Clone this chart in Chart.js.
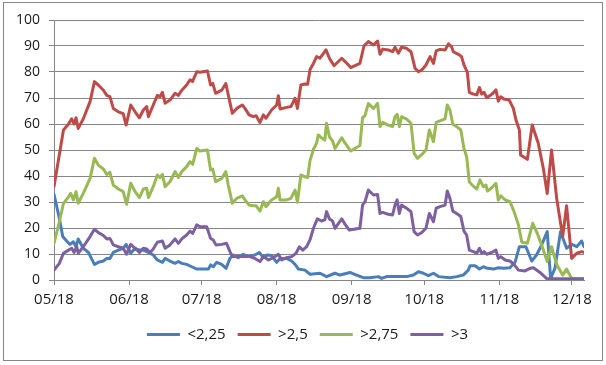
<!DOCTYPE html>
<html>
<head>
<meta charset="utf-8">
<script src="https://cdn.jsdelivr.net/npm/chart.js@4.4.1/dist/chart.umd.min.js"></script>
<style>
  html, body { margin: 0; padding: 0; background: #fff; }
  #frame { position: absolute; left: 3px; top: 2px; width: 600px; height: 359px; box-sizing: border-box; border: 1px solid #868686; }
  #chart { position: absolute; left: 0; top: 0; }
</style>
</head>
<body>
<div id="frame"></div>
<canvas id="chart" width="606" height="365"></canvas>
<script>
// x values are days since 1 May 2018
const monthDays = [0, 31, 61, 92, 123, 153, 184, 214];
const monthLabels = ['05/18', '06/18', '07/18', '08/18', '09/18', '10/18', '11/18', '12/18'];
const yTicks = [0, 10, 20, 30, 40, 50, 60, 70, 80, 90, 100];
const seriesNames = ['<2,25', '>2,5', '>2,75', '>3'];

const blueDays = [0, 2.2, 3.6, 5.2, 6.6, 8, 9.1, 10, 12.1, 14.2, 16.7, 18.3, 20.4, 21.8, 23.1, 24.5, 26.6, 28.6, 29.8, 31.7, 33.5, 35.3, 36.9, 39, 41, 42.7, 44.8, 45.9, 47.9, 50, 51.4, 52.8, 54.8, 56.9, 59, 61.7, 63.8, 64.7, 65.8, 67.2, 69.3, 71.1, 72.7, 74.1, 76.1, 78.2, 80.2, 83, 84.8, 86.5, 88.1, 89.9, 92, 93.4, 96.1, 98.2, 99.6, 101, 103.7, 105.8, 107.9, 109.9, 112.6, 116.1, 118.2, 122.3, 125, 127.8, 130.5, 134, 135.4, 137.4, 141.6, 145.7, 148.5, 150.6, 152.6, 154.7, 156.8, 158.9, 163.6, 166.4, 169.1, 171.2, 171.9, 174, 175.8, 177.4, 179.1, 181.6, 183.6, 185.7, 188.4, 190.5, 192.3, 195, 197.4, 199.4, 201.5, 203.8, 205.2, 207, 209.3, 211.8, 213.9, 216, 218, 219];
const blueVals = [33, 23.7, 16.7, 15, 13.7, 14.7, 12.8, 15.8, 12.2, 10.6, 6, 6.8, 7.3, 8.3, 8.3, 10.6, 11.5, 12.2, 13.7, 10.3, 12.2, 11.5, 11.5, 10.6, 9.6, 7.7, 6.8, 8.3, 7.3, 6.4, 7.1, 6.4, 6, 5.1, 4.2, 4.2, 4.2, 5.8, 5.1, 6.8, 6, 4.5, 8.3, 9.6, 8.6, 9.9, 9, 9.6, 10.6, 8.6, 9.6, 9.4, 6.8, 8.3, 8.3, 7.3, 6, 4.2, 3.8, 2.2, 2.4, 2.6, 1.3, 2.6, 1.9, 2.9, 1.9, 0.9, 0.9, 1.3, 0.6, 1.3, 1.3, 1.3, 1.9, 3.2, 2.6, 1.7, 2.6, 1.3, 0.9, 1.3, 1.9, 3.8, 5.5, 5.5, 4.2, 5.1, 4.5, 4.2, 4.7, 4.5, 4.7, 6.8, 12.8, 12.8, 7.3, 9.6, 13.5, 18.6, 0.6, 4.5, 18.6, 12.2, 13.7, 12.8, 15, 12.8];

const redDays = [0, 3.9, 6, 7.3, 8.3, 9.1, 10, 12.1, 14.9, 16.7, 18.3, 20.4, 21.8, 23.1, 24.5, 26.6, 28.6, 29.8, 31.7, 33.5, 35.3, 36.9, 38.3, 39, 41, 42.7, 43.8, 44.8, 45.9, 47.9, 50, 51.4, 52.8, 54.8, 56.2, 57.2, 59, 60.3, 63.4, 64.7, 65.6, 66.8, 69.3, 71, 72, 73.7, 75.5, 77.8, 78.9, 80.6, 82.4, 83.5, 85.1, 86.5, 87.6, 89.9, 92, 92.7, 93.4, 96.1, 97.9, 99.6, 100.6, 102, 103.7, 104.8, 105.8, 107.2, 108.5, 109.9, 112.4, 113.8, 115.7, 118.9, 120.3, 122.6, 126.4, 128.1, 129.9, 132, 133.7, 134.7, 135.8, 138.1, 139.9, 140.9, 142.3, 143.6, 145.7, 147.5, 149.2, 150.6, 152, 153.7, 155.4, 156.8, 157.9, 159.5, 161.6, 163, 164.3, 165, 167.1, 168.4, 169.4, 170.8, 171.6, 173.3, 174.7, 175.8, 176.7, 177.7, 178.8, 180.9, 182.6, 183.6, 184.6, 185.9, 188.1, 189.8, 190.9, 192.3, 192.8, 195.6, 197.6, 200.1, 202.2, 203.8, 205.6, 207.7, 210.2, 211.8, 213.9, 216, 218, 219];
const redVals = [36, 57.7, 60, 62, 60, 62.4, 58.3, 62, 68.6, 76.3, 75, 73, 71, 70.5, 66, 64.7, 64, 59.6, 67.3, 64.7, 62.4, 65.4, 66.7, 62.8, 67.3, 71, 70.5, 72.2, 68, 69.2, 71.8, 71, 73, 75, 77, 76.3, 80.1, 79.9, 80.4, 75, 75.6, 71.8, 73, 75.6, 71.2, 64.1, 66, 67.3, 66, 63.5, 62.8, 63.2, 60.6, 63.5, 62.2, 65.4, 67.3, 70.9, 65.8, 66.4, 66.7, 69.9, 66, 75, 75.4, 75.3, 81, 83.3, 85.9, 85.3, 88.5, 85.3, 82.4, 85.3, 84, 81.7, 83.3, 90.1, 91.7, 90.4, 91.9, 86.8, 88.8, 88.5, 87.8, 89.5, 87.2, 89.5, 89.1, 87.8, 81.4, 80.1, 80.8, 82.7, 85.9, 83.3, 88.1, 88.7, 88.5, 90.8, 89.7, 87.8, 86.8, 85.9, 82.7, 79.9, 72.2, 71.5, 71.2, 74, 71.5, 72.2, 70.1, 71.4, 73.1, 68.8, 70.5, 69.6, 69.2, 66, 61.5, 57.7, 48.1, 46.4, 59.6, 52.6, 42.9, 33.3, 50, 31.4, 16.7, 28.6, 8.3, 10.3, 10.9, 10.6];

const greenDays = [0, 2.2, 3.9, 6, 6.9, 8, 9.1, 10, 12.1, 14.9, 16.7, 18.3, 20.4, 21.8, 23.1, 24.5, 26.6, 28.6, 30, 31.7, 33.5, 35.3, 36.9, 38.3, 39, 41, 42.7, 43.8, 44.8, 45.9, 47.9, 50, 51.4, 52.8, 54.8, 56.2, 57.3, 59, 60.3, 63.4, 64.7, 65.6, 66.8, 69.3, 71, 72, 73.7, 75.5, 77.8, 78.9, 80.6, 82.4, 83.5, 85.1, 86.5, 87.6, 89.9, 92, 92.7, 93.4, 96.1, 97.9, 99.6, 100.6, 102, 103.7, 104.8, 105.8, 107.2, 108.5, 109.2, 110.5, 111.9, 112.6, 113.8, 115.1, 116.1, 118.9, 120.3, 122.6, 126.4, 127.5, 128.5, 129.9, 132, 133.7, 134.7, 135.8, 138.1, 139.9, 140.9, 141.8, 142.7, 143.6, 145.7, 147.5, 148.8, 150.2, 152, 153.7, 155.1, 156.8, 157.9, 159.5, 161.6, 162.5, 163.6, 164.8, 166.4, 168.1, 169.4, 170.5, 171.6, 173, 174.7, 176, 177.4, 178.5, 179.1, 180.9, 182.6, 183.6, 184.6, 186.4, 188.4, 190.1, 191.9, 193.3, 195.6, 197.8, 199.7, 201.5, 203.8, 205.6, 207.7, 210.2, 211.8, 213.9, 219];
const greenVals = [14.1, 22.4, 29.5, 32, 33.3, 30.8, 34, 29.5, 33.3, 39.1, 46.8, 44.2, 42.7, 40.6, 41.4, 36.5, 35, 34, 29.1, 37.2, 34, 31.7, 35, 35.3, 31.7, 35.9, 40.4, 39.4, 40.6, 35.9, 37.8, 41.7, 39.4, 41.7, 43.6, 45.5, 44.5, 50.6, 49.6, 50, 42.3, 42.7, 37.8, 39.1, 41.7, 36.5, 29.5, 31.4, 32.4, 30.8, 28.8, 28.6, 28.6, 26.5, 30.1, 28.2, 30.8, 32, 35.3, 30.8, 30.8, 31.4, 34.6, 29.9, 40.4, 39.7, 39.4, 46, 50.3, 52.6, 55.8, 54.7, 53.8, 60.3, 55.1, 53.5, 50.6, 54.7, 52.6, 49.6, 51.7, 62.4, 63.2, 67.9, 66, 67.9, 59, 60.6, 59.6, 59, 62.8, 63.7, 59, 62.8, 61.9, 60.3, 48.7, 46.8, 48.3, 50, 57.7, 53.2, 60.6, 61.2, 62, 67.3, 65.4, 59.9, 59, 57.7, 50.6, 47.4, 37.8, 36.3, 35, 38.5, 35.9, 36.5, 34.2, 35.5, 37.2, 30.8, 32.4, 30.8, 30.1, 26.3, 21.2, 14.5, 14.1, 21.8, 17.9, 13.5, 7.1, 12.8, 6, 1.9, 4.2, 0.6, 0.6];

const purpleDays = [0, 2.2, 3.9, 6, 7.3, 8.3, 9.4, 10, 12.1, 14.9, 16.7, 18.3, 20.4, 21.8, 23.1, 24.5, 26.6, 28.6, 30, 31.7, 33.5, 35.3, 36.9, 38.3, 39.7, 41, 42.7, 44.8, 45.9, 47.9, 50, 51.4, 52.8, 54.8, 56.2, 57.3, 59, 60.3, 63.1, 64.7, 65.8, 66.9, 69.3, 71.3, 72.7, 73.8, 76.1, 78.9, 80.9, 83, 85.1, 86.5, 88.6, 90.6, 92.7, 94.1, 96.1, 98.2, 100, 101.4, 102.8, 104.4, 105.8, 107.2, 108.8, 110.5, 111.9, 112.6, 113.8, 115.1, 116.1, 118.9, 120.3, 122, 126.4, 127.5, 128.5, 129.9, 132, 133.7, 134.7, 135.8, 138.1, 139.9, 140.9, 141.8, 142.7, 143.6, 145.7, 147.5, 148.8, 150.2, 152, 153.7, 155.1, 156.8, 157.9, 159.5, 161.6, 162.5, 163.6, 164.8, 166.4, 168.1, 169.4, 170.5, 171.6, 173.3, 174.7, 175.8, 176.7, 177.7, 178.8, 180.9, 182.6, 183.6, 184.6, 186.4, 188.4, 190.1, 191.9, 194.6, 196.7, 198.1, 200.8, 203.5, 219];
const purpleVals = [3.8, 6.4, 10.3, 11.5, 12.2, 10.6, 12.8, 10.3, 12.8, 16.7, 19.5, 18.3, 17.1, 15.8, 16, 13.5, 12.8, 12.2, 9.9, 13.7, 12.2, 10.6, 12.2, 11.9, 10.6, 11.9, 14.5, 15, 12.2, 13.5, 15.8, 14.1, 15.8, 17.3, 18.8, 17.9, 21.2, 20.5, 20.5, 16, 15.4, 13.5, 13.7, 14.1, 10.9, 9, 9, 9, 9, 8.3, 7.1, 9, 7.7, 8.6, 9.9, 7.7, 8.6, 9, 10.3, 12.8, 11.5, 12.8, 15.5, 19.9, 23.5, 22.7, 23.1, 26.3, 23.5, 22.7, 19.9, 23.5, 21.4, 19.2, 19.9, 28.8, 30.1, 34.6, 32.7, 32.9, 25.6, 26, 25.3, 25, 28.8, 30.8, 25.6, 28.8, 27.6, 26.3, 18.6, 17.3, 18.3, 19.9, 25.6, 22.4, 27.6, 28.2, 28.8, 34.2, 31.4, 26.5, 25.6, 24.4, 18.8, 17.3, 11.5, 10.9, 10.3, 12.2, 10.3, 10.9, 9.9, 10.6, 11.5, 8.3, 9, 7.7, 7.3, 6, 3.8, 3.5, 4.5, 4.7, 2.9, 0.6, 0.4];

function pts(days, vals) {
  return days.map((d, i) => ({ x: d, y: vals[i] }));
}

function line(label, days, vals, color, order) {
  return {
    label: label,
    data: pts(days, vals),
    borderColor: color,
    backgroundColor: color,
    borderWidth: 3,
    pointRadius: 0,
    tension: 0,
    borderJoinStyle: 'round',
    borderCapStyle: 'round',
    order: order
  };
}

const gridColor = '#868686';
const fontFamily = '"Open Sans", Lato, sans-serif';

// the legend is centred on the whole frame, not on the padded layout box
const legendShift = {
  id: 'legendShift',
  afterLayout(chart) {
    chart.legend.left += 12;
    chart.legend.right += 12;
  }
};

new Chart(document.getElementById('chart'), {
  type: 'line',
  data: {
    datasets: [
      line(seriesNames[0], blueDays, blueVals, '#4A7EBB', 4),
      line(seriesNames[1], redDays, redVals, '#BE4B48', 3),
      line(seriesNames[2], greenDays, greenVals, '#98B954', 2),
      line(seriesNames[3], purpleDays, purpleVals, '#7D60A0', 1)
    ]
  },
  plugins: [legendShift],
  options: {
    responsive: false,
    animation: false,
    layout: { padding: { left: 7, right: 22, top: 20, bottom: 13 } },
    scales: {
      x: {
        type: 'linear',
        min: 0,
        max: 219,
        afterBuildTicks: axis => { axis.ticks = monthDays.map(v => ({ value: v })); },
        ticks: {
          autoSkip: false,
          maxRotation: 0,
          padding: 6,
          color: '#1a1a1a',
          font: { family: fontFamily, size: 15 },
          callback: v => monthLabels[monthDays.indexOf(v)]
        },
        grid: { drawOnChartArea: false, drawTicks: true, tickLength: 5, color: gridColor },
        border: { color: gridColor }
      },
      y: {
        min: 0,
        max: 100,
        afterBuildTicks: axis => { axis.ticks = yTicks.map(v => ({ value: v })); },
        ticks: {
          padding: 9,
          color: '#1a1a1a',
          font: { family: fontFamily, size: 14 }
        },
        grid: { color: gridColor, tickLength: 5 },
        border: { color: gridColor }
      }
    },
    plugins: {
      tooltip: { enabled: false },
      legend: {
        position: 'bottom',
        labels: {
          usePointStyle: true,
          pointStyle: 'line',
          pointStyleWidth: 33,
          boxHeight: 15,
          padding: 12,
          color: '#1a1a1a',
          font: { family: fontFamily, size: 15 },
          sort: (a, b) => a.datasetIndex - b.datasetIndex
        }
      }
    }
  }
});
</script>
</body>
</html>
